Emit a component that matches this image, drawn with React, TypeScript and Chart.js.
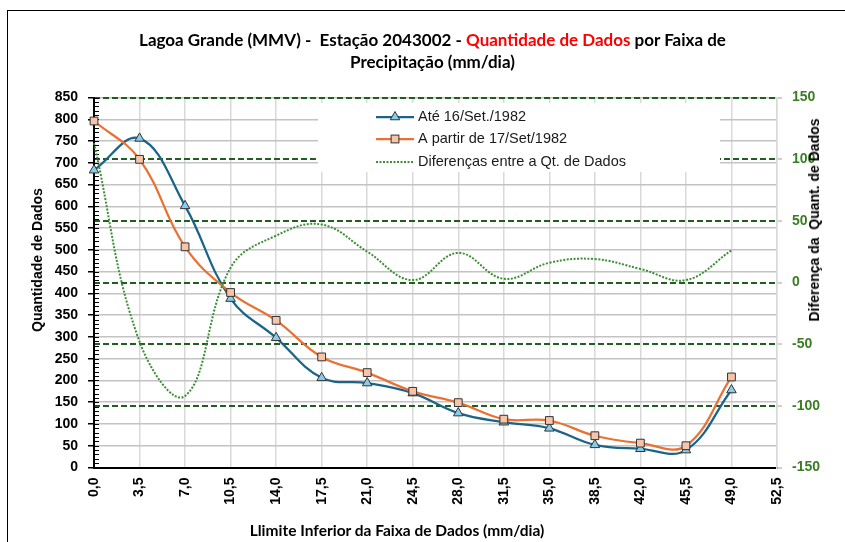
import React, { useEffect, useRef } from "react";
import { Chart, registerables } from "chart.js";

Chart.register(...registerables);

// ---- data ----
const faixaInferior = [0, 3.5, 7, 10.5, 14, 17.5, 21, 24.5, 28, 31.5, 35, 38.5, 42, 45.5, 49];
const xTickValues = [0, 3.5, 7, 10.5, 14, 17.5, 21, 24.5, 28, 31.5, 35, 38.5, 42, 45.5, 49, 52.5];
const ateSet1982 = [683, 756, 601, 388, 298, 206, 194, 171, 125, 104, 90, 52, 43, 40, 178];
const aPartirSet1982 = [796, 708, 507, 402, 338, 254, 218, 175, 149, 111, 108, 73, 56, 50, 208];
const diferencas = [113, -48, -92, 12, 38, 47, 25, 2, 24, 3, 16, 19, 11, 2, 26];

const seriesNames = ["Até 16/Set./1982", "A partir de 17/Set/1982", "Diferenças entre a Qt. de Dados"];

// ---- styles ----
const BLUE = "#1a6488";
const BLUE_FILL = "#86cdec";
const ORANGE = "#e97132";
const ORANGE_FILL = "#f7c4a8";
const MARKER_EDGE = "#333333";
const DOT_GREEN = "#3d8f35";
const DASH_GREEN = "#1f5f1f";
const TICK_GREEN = "#3b7d23";
const ARIAL = "'Liberation Sans', Arial, sans-serif";

const toPoints = (ys: number[]) => faixaInferior.map((x, i) => ({ x, y: ys[i] }));

const legendPlugin = {
  id: "boxLegend",
  beforeDatasetsDraw(chart: any) {
    const { ctx, chartArea } = chart;
    const bx = chartArea.left + 224;
    const by = chartArea.top + 5.5;
    const bw = 402;
    const bh = 69;
    ctx.save();
    ctx.fillStyle = "#ffffff";
    ctx.fillRect(bx, by, bw, bh);
    const rows = [by + 14, by + 36, by + 59];
    const lx1 = bx + 58;
    const lx2 = bx + 96;
    const mx = (lx1 + lx2) / 2;
    ctx.font = `14.5px ${ARIAL}`;
    ctx.textBaseline = "middle";
    ctx.textAlign = "left";
    rows.forEach((ry, i) => {
      ctx.beginPath();
      ctx.lineWidth = i === 2 ? 2 : 2.25;
      ctx.strokeStyle = i === 0 ? BLUE : i === 1 ? ORANGE : DOT_GREEN;
      ctx.setLineDash(i === 2 ? [2, 1.5] : []);
      ctx.moveTo(lx1, ry);
      ctx.lineTo(lx2, ry);
      ctx.stroke();
      ctx.setLineDash([]);
      ctx.lineWidth = 1;
      ctx.strokeStyle = MARKER_EDGE;
      if (i === 0) {
        const r = 5.5;
        ctx.beginPath();
        ctx.moveTo(mx, ry - r);
        ctx.lineTo(mx + r * 0.866, ry + r * 0.5);
        ctx.lineTo(mx - r * 0.866, ry + r * 0.5);
        ctx.closePath();
        ctx.fillStyle = BLUE_FILL;
        ctx.fill();
        ctx.stroke();
      } else if (i === 1) {
        const s = 3.9;
        ctx.fillStyle = ORANGE_FILL;
        ctx.fillRect(mx - s, ry - s, 2 * s, 2 * s);
        ctx.strokeRect(mx - s, ry - s, 2 * s, 2 * s);
      }
      ctx.fillStyle = "#1a1a1a";
      ctx.fillText(seriesNames[i], lx2 + 4, ry);
    });
    ctx.restore();
  },
};

const minorTicksPlugin = {
  id: "minorTicks",
  beforeDatasetsDraw(chart: any) {
    const { ctx } = chart;
    const y = chart.scales.y;
    const left = chart.chartArea.left;
    ctx.save();
    ctx.strokeStyle = "#000";
    ctx.lineWidth = 1;
    for (let v = y.min; v <= y.max; v += 10) {
      const py = Math.round(y.getPixelForValue(v)) + 0.5;
      ctx.beginPath();
      ctx.moveTo(left, py);
      ctx.lineTo(left + 5, py);
      ctx.stroke();
    }
    ctx.restore();
  },
};

export default function App() {
  const ref = useRef<HTMLCanvasElement>(null);

  useEffect(() => {
    if (!ref.current) return;
    const chart = new Chart(ref.current, {
      type: "line",
      data: {
        datasets: [
          {
            label: seriesNames[0],
            data: toPoints(ateSet1982),
            xAxisID: "x",
            yAxisID: "y",
            borderColor: BLUE,
            borderWidth: 2.25,
            tension: 0.4,
            pointStyle: "triangle",
            pointRadius: 5.5,
            pointBackgroundColor: BLUE_FILL,
            pointBorderColor: MARKER_EDGE,
            pointBorderWidth: 1,
            clip: false,
            order: 3,
          },
          {
            label: seriesNames[1],
            data: toPoints(aPartirSet1982),
            xAxisID: "x",
            yAxisID: "y",
            borderColor: ORANGE,
            borderWidth: 2.25,
            tension: 0.4,
            pointStyle: "rect",
            pointRadius: 5.5,
            pointBackgroundColor: ORANGE_FILL,
            pointBorderColor: MARKER_EDGE,
            pointBorderWidth: 1,
            clip: false,
            order: 2,
          },
          {
            label: seriesNames[2],
            data: toPoints(diferencas),
            xAxisID: "x",
            yAxisID: "y1",
            borderColor: DOT_GREEN,
            borderWidth: 2,
            borderDash: [2, 1.5],
            tension: 0.4,
            pointRadius: 0,
            clip: false,
            order: 1,
          },
        ],
      } as any,
      options: {
        responsive: false,
        animation: false,
        devicePixelRatio: 1,
        layout: { padding: { top: 97.5, left: 0, right: 0, bottom: 0 } },
        plugins: {
          legend: { display: false },
          title: { display: false },
          tooltip: { enabled: false },
        },
        scales: {
          x: {
            type: "linear",
            position: "bottom",
            min: 0,
            max: 52.5,
            afterBuildTicks: (s: any) => {
              s.ticks = xTickValues.map((v) => ({ value: v }));
            },
            afterFit: (s: any) => {
              s.height = 74.5;
            },
            ticks: {
              autoSkip: false,
              minRotation: 90,
              maxRotation: 90,
              padding: 10,
              color: "#000",
              font: { family: ARIAL, size: 14, weight: "bold" },
              callback: (v: any) => Number(v).toFixed(1).replace(".", ","),
            },
            grid: { color: "#d9d9d9", lineWidth: 1.5, drawTicks: false },
            border: { color: "#000", width: 2 },
          },
          y: {
            type: "linear",
            position: "left",
            min: 0,
            max: 850,
            afterFit: (s: any) => {
              s.width = 94;
            },
            ticks: {
              stepSize: 50,
              padding: 10,
              color: "#000",
              font: { family: ARIAL, size: 14, weight: "bold" },
            },
            grid: { color: "#c3c3c3", lineWidth: 1.5, tickColor: "#000", tickLength: 6, tickWidth: 1.5 },
            border: { color: "#000", width: 2 },
          },
          y1: {
            type: "linear",
            position: "right",
            min: -150,
            max: 150,
            afterFit: (s: any) => {
              s.width = 68;
            },
            ticks: {
              stepSize: 50,
              padding: 10,
              color: TICK_GREEN,
              font: { family: ARIAL, size: 14, weight: "bold" },
            },
            grid: { color: DASH_GREEN, lineWidth: 2, tickColor: "#bfbfbf", tickLength: 5, tickWidth: 1.5, tickBorderDash: [] },
            border: { color: "#d9d9d9", width: 1.5, dash: [6, 3] },
          },
        },
      } as any,
      plugins: [legendPlugin, minorTicksPlugin],
    });
    return () => chart.destroy();
  }, []);

  const titleFont = "Lato, 'Open Sans', sans-serif";

  return (
    <div style={{ position: "fixed", left: 0, top: 0, width: 845, height: 542, background: "#fff", overflow: "hidden" }}>
      <div
        style={{
          position: "absolute",
          left: 7,
          top: 10,
          width: 860,
          height: 560,
          borderLeft: "1.5px solid #000",
          borderTop: "1.5px solid #000",
        }}
      />
      <canvas ref={ref} width={845} height={542} style={{ position: "absolute", left: 0, top: 0, width: 845, height: 542 }} />
      <div
        style={{
          position: "absolute",
          left: 0,
          top: 29,
          width: 865,
          textAlign: "center",
          fontFamily: titleFont,
          fontWeight: 700,
          fontSize: 17,
          lineHeight: "22px",
          color: "#000",
          whiteSpace: "nowrap",
        }}
      >
        <div>
          <span>Lagoa Grande (MMV) -&nbsp; Estação 2043002 - </span>
          <span style={{ color: "#ff0000" }}>Quantidade de Dados</span>
          <span> por Faixa de</span>
        </div>
        <div>Precipitação (mm/dia)</div>
      </div>
      <div
        style={{
          position: "absolute",
          left: 37,
          top: 260,
          transform: "translate(-50%, -50%) rotate(-90deg)",
          fontFamily: ARIAL,
          fontWeight: 700,
          fontSize: 14,
          whiteSpace: "nowrap",
          color: "#000",
        }}
      >
        Quantidade de Dados
      </div>
      <div
        style={{
          position: "absolute",
          left: 814,
          top: 220,
          transform: "translate(-50%, -50%) rotate(-90deg)",
          fontFamily: ARIAL,
          fontWeight: 700,
          fontSize: 14,
          whiteSpace: "pre",
          color: "#000",
        }}
      >
        {"Diferença da  Quant. de Dados"}
      </div>
      <div
        style={{
          position: "absolute",
          left: 0,
          top: 521,
          width: 794,
          textAlign: "center",
          fontFamily: titleFont,
          fontWeight: 700,
          fontSize: 15.5,
          whiteSpace: "nowrap",
          color: "#000",
        }}
      >
        Llimite Inferior da Faixa de Dados (mm/dia)
      </div>
    </div>
  );
}
